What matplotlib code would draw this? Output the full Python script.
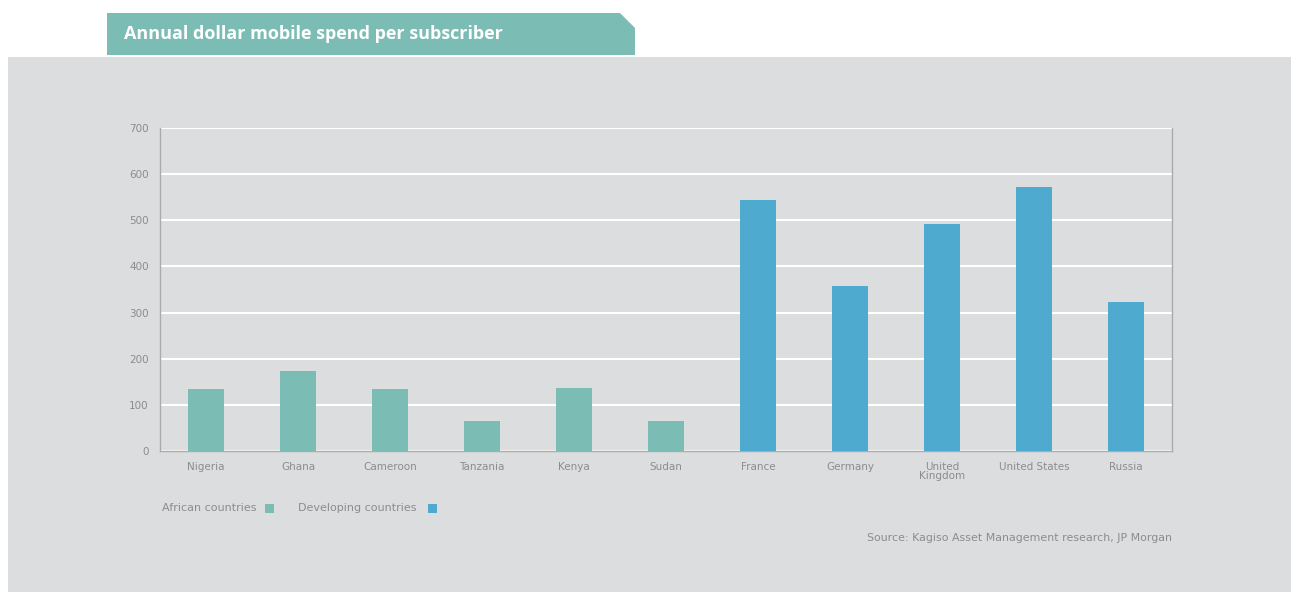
import matplotlib.pyplot as plt
from matplotlib.patches import Rectangle, Polygon

countries = ["Nigeria", "Ghana", "Cameroon", "Tanzania", "Kenya", "Sudan",
             "France", "Germany", "United\nKingdom", "United States", "Russia"]
spend = [134, 173, 134, 65, 137, 65, 544, 358, 492, 572, 323]
groups = ["African"] * 6 + ["Developing"] * 5
yticks = [0, 100, 200, 300, 400, 500, 600, 700]

teal = "#7bbdb5"
blue = "#4eaacf"
panel = "#dcdddf"
txt = "#8a8c8e"

W, H = 1295, 592
fig = plt.figure(figsize=(W / 100, H / 100), dpi=100)
fig.patch.set_facecolor("white")

# grey panel behind the chart
fig.patches.append(Rectangle((8 / W, 0), (W - 12) / W, 1 - 57 / H,
                             transform=fig.transFigure, facecolor=panel,
                             edgecolor="none", zorder=-10))
# title tab with clipped corner
tab = [(107, 13), (620, 13), (635, 28), (635, 55), (107, 55)]
fig.patches.append(Polygon([(x / W, 1 - y / H) for x, y in tab], closed=True,
                           transform=fig.transFigure, facecolor=teal,
                           edgecolor="none", zorder=-5))
fig.text(124 / W, 1 - 34 / H, "Annual dollar mobile spend per subscriber",
         color="white", fontsize=13, fontweight="bold", va="center", ha="left",
         family="Open Sans")

ax = fig.add_axes([160 / W, 1 - 451 / H, (1172 - 160) / W, (451 - 128) / H])
ax.set_facecolor(panel)
colors = [teal if g == "African" else blue for g in groups]
x = list(range(len(countries)))
ax.bar(x, spend, width=0.4, color=colors, zorder=3)
ax.set_xlim(-0.5, len(countries) - 0.5)
ax.set_ylim(0, 700)
ax.set_yticks(yticks)
ax.set_yticklabels([str(v) for v in yticks])
ax.set_xticks(x)
ax.set_xticklabels(countries, linespacing=0.85)
ax.yaxis.grid(True, color="white", linewidth=1.5, zorder=1)
ax.set_axisbelow(True)
ax.tick_params(axis="both", length=0, labelsize=7.5, colors=txt)
ax.tick_params(axis="y", pad=8)
ax.tick_params(axis="x", pad=8)
for s in ["left", "bottom", "right"]:
    ax.spines[s].set_color("#a9abad")
    ax.spines[s].set_linewidth(1)
ax.spines["top"].set_visible(False)

# legend row
fig.text(162 / W, 1 - 508 / H, "African countries", color=txt, fontsize=8, va="center")
fig.patches.append(Rectangle((265 / W, 1 - 513 / H), 9 / W, 9 / H,
                             transform=fig.transFigure, facecolor=teal, edgecolor="none"))
fig.text(298 / W, 1 - 508 / H, "Developing countries", color=txt, fontsize=8, va="center")
fig.patches.append(Rectangle((428 / W, 1 - 513 / H), 9 / W, 9 / H,
                             transform=fig.transFigure, facecolor=blue, edgecolor="none"))

fig.text(1172 / W, 1 - 538 / H, "Source: Kagiso Asset Management research, JP Morgan",
         color=txt, fontsize=7.9, va="center", ha="right")

fig.savefig("out.png", dpi=100)
